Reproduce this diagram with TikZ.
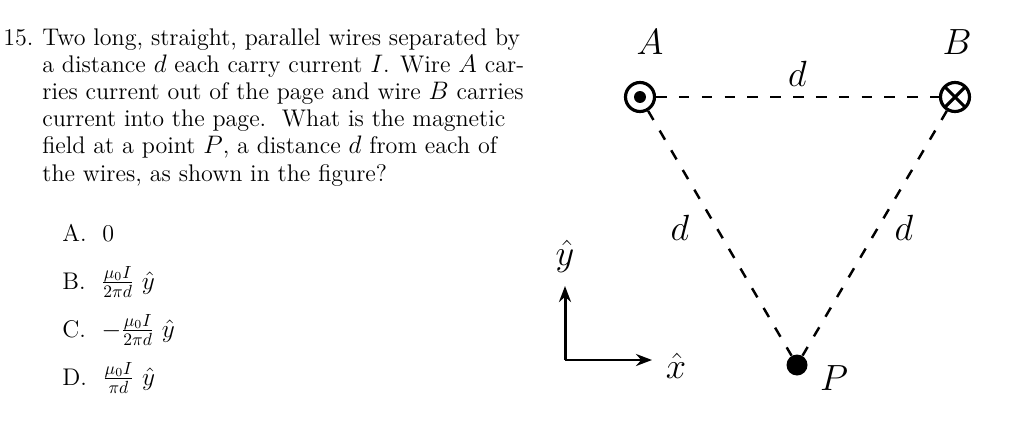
\documentclass[tikz,border=0pt]{standalone}
\usepackage{amsmath,amssymb}
\usepackage{tikz}
\usetikzlibrary{arrows.meta, positioning, calc}

\begin{document}
\begin{tikzpicture}[x=0.02cm, y=-0.02cm,
      txt/.style  ={inner sep=0, anchor=west, font=\fontsize{13.7}{15.5}\selectfont},
      wire/.style ={circle, draw, line width=1.8pt, minimum size=0.58cm, inner sep=0},
      lbl/.style  ={font=\fontsize{22}{22}\selectfont},
      side/.style ={dashed, line width=1.4pt, dash pattern=on 6pt off 7pt},
      >={Stealth[length=3.2mm]}
    ]
    \useasboundingbox (0,0) rectangle (1024,436);

    % Aufgabentext
    \node[txt] (num) at (3,38) {15.};
    \node[txt, anchor=north west, align=left] (Q) at (42,28)
      {Two long, straight, parallel wires separated by\\
       a distance $d$ each carry current $I$. Wire $A$ car-\\
       ries current out of the page and wire $B$ carries\\
       current into the page.\ \ What is the magnetic\\
       field at a point $P$, a distance $d$ from each of\\
       the wires, as shown in the figure?};

    % Antworten
    \node[txt] (ansA) at (62,233) {A.\ \ 0};
    \node[txt] (ansB) at (62,282) {B.\ \ $\frac{\mu_0 I}{2\pi d}\ \hat{y}$};
    \node[txt] (ansC) at (62,330) {C.\ \ $-\frac{\mu_0 I}{2\pi d}\ \hat{y}$};
    \node[txt] (ansD) at (62,378) {D.\ \ $\frac{\mu_0 I}{\pi d}\ \hat{y}$};

    % Draehte und Punkt P
    \node[wire] (A) at (640,97) {};
    \fill (A) circle (3.4pt);
    \node[wire] (B) at (955,97) {};
    \draw[line width=1.8pt] ($(B)+(-9.5,-9.5)$) -- ($(B)+(9.5,9.5)$)
                            ($(B)+(-9.5,9.5)$) -- ($(B)+(9.5,-9.5)$);
    \node[circle, fill, minimum size=0.42cm, inner sep=0] (P) at (797,365) {};

    \node[lbl] (lA) at (650,42) {$A$};
    \node[lbl] (lB) at (957,42) {$B$};
    \node[lbl] (lP) at (834,378) {$P$};

    % Seiten des Dreiecks
    \draw[side] (A) -- node[lbl, above=2pt] {$d$} (B);
    \draw[side] (A) -- (P);
    \draw[side] (B) -- (P);
    \node[lbl] (dl) at (680,228) {$d$};
    \node[lbl] (dr) at (904,228) {$d$};

    % Achsen
    \coordinate (O) at (565,360);
    \coordinate (ytip) at (565,286);
    \coordinate (xtip) at (652,360);
    \draw[->, line width=1.7pt] (O) -- (ytip);
    \draw[->, line width=1.7pt] (O) -- (xtip);
    \node[lbl] (yhat) at (565,256) {$\hat{y}$};
    \node[lbl] (xhat) at (676,366) {$\hat{x}$};
\end{tikzpicture}
\end{document}
